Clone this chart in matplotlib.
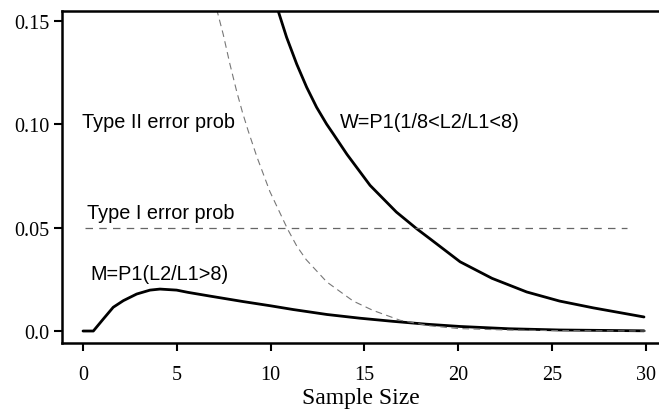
import matplotlib
matplotlib.use("Agg")
import matplotlib.pyplot as plt

# W = P1(1/8 < L2/L1 < 8)
w_x = [10.4, 10.85, 11.39, 11.92, 12.45, 12.98, 13.34, 14.07, 15.3, 16.7, 17.8, 18.5, 20.1, 21.8, 23.65, 25.4, 27.2, 29.9]
w_y = [0.155, 0.1422, 0.1292, 0.118, 0.1083, 0.1002, 0.0954, 0.0855, 0.0705, 0.0576, 0.0494, 0.0446, 0.0335, 0.0255, 0.0189, 0.0145, 0.0112, 0.0068]

# M = P1(L2/L1 > 8)
m_x = [0.0, 0.55, 1.08, 1.61, 2.15, 2.86, 3.57, 4.1, 4.99, 5.6, 6.77, 8.5, 10.0, 11.2, 13.0, 14.76, 16.5, 18.3, 20.1, 22.7, 25.4, 29.9]
m_y = [0.0, 0.0, 0.0058, 0.0115, 0.0147, 0.0179, 0.0198, 0.0203, 0.0198, 0.0187, 0.0169, 0.0143, 0.0122, 0.0104, 0.0080, 0.0062, 0.0047, 0.0033, 0.0022, 0.0011, 0.0005, 0.0001]

# Type II error probability
t2_x = [7.12, 7.47, 7.83, 8.19, 8.5, 8.8, 9.26, 9.96, 10.9, 11.4, 11.9, 13.0, 14.4, 15.45, 16.9, 18.5, 20.0, 22.5, 25.0, 30.0]
t2_y = [0.1559, 0.1437, 0.1292, 0.1160, 0.1058, 0.0970, 0.0845, 0.0675, 0.0494, 0.041, 0.0345, 0.0237, 0.0145, 0.0100, 0.0052, 0.0025, 0.0012, 0.0005, 0.0002, 0.0]

# Type I error probability
t1_x = [0.1, 29.0]
t1_y = [0.05, 0.05]

x_ticks = [0, 5, 10, 15, 20, 25, 30]
y_ticks = [0.0, 0.05, 0.10, 0.15]
y_tick_labels = ["0.0", "0.05", "0.10", "0.15"]

fig = plt.figure(figsize=(6.59, 4.10), dpi=100)
ax = fig.add_axes([62/659, 1 - 344/410, 1 - 62/659, (344 - 12)/410])

ax.plot(w_x, w_y, color="black", lw=2.0, solid_capstyle="round", solid_joinstyle="round")
ax.plot(m_x, m_y, color="black", lw=2.0, solid_capstyle="round", solid_joinstyle="round")
ax.plot(t2_x, t2_y, color="#777777", lw=0.8, dashes=(6, 4))
ax.plot(t1_x, t1_y, color="#666666", lw=0.9, dashes=(6, 5))

sans = "Liberation Sans"
fs = 14.3
ax.text(-0.05, 0.1016, "Type II error prob", fontsize=fs, family=sans, va="center", ha="left")
ax.text(13.7, 0.1012, "W=P1(1/8<L2/L1<8)", fontsize=fs, family=sans, va="center", ha="left")
ax.text(0.21, 0.0576, "Type I error prob", fontsize=fs, family=sans, va="center", ha="left")
ax.text(0.37, 0.0276, "M=P1(L2/L1>8)", fontsize=fs, family=sans, va="center", ha="left")

ax.set_xlim(-1.12, 30.7)
ax.set_ylim(-0.0058, 0.1549)
ax.set_xticks(x_ticks)
ax.set_xticklabels([str(v) for v in x_ticks], family="Liberation Serif", fontsize=14.5)
ax.set_yticks(y_ticks)
ax.set_yticklabels(y_tick_labels, family="Liberation Serif", fontsize=14.5)
ax.set_xlabel("Sample Size", family="Liberation Serif", fontsize=17, labelpad=2)

ax.spines["right"].set_visible(False)
for s in ["left", "bottom", "top"]:
    ax.spines[s].set_linewidth(1.8)
ax.tick_params(axis="x", direction="out", length=6, width=1.5, pad=10)
ax.tick_params(axis="y", direction="out", length=6, width=1.5, pad=3)

fig.savefig("out.png", dpi=100)
